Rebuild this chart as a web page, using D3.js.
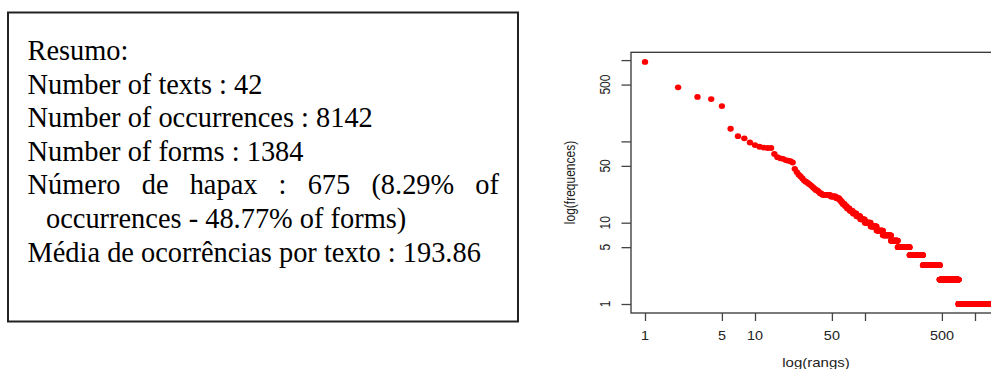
<!DOCTYPE html>
<html>
<head>
<meta charset="utf-8">
<script src="https://cdn.jsdelivr.net/npm/d3@7"></script>
<style>
  html, body { margin: 0; padding: 0; background: #fff; }
  svg { display: block; }
</style>
</head>
<body>
<svg id="chart" width="991" height="369"></svg>
<script>
// ---------- DATA ----------
const summaryLines = [
  "Resumo:",
  "Number of texts : 42",
  "Number of occurrences : 8142",
  "Number of forms : 1384"
];
const hapaxLineWords = ["Número", "de", "hapax", ":", "675", "(8.29%", "of"];
const hapaxLine2 = "occurrences - 48.77% of forms)";
const meanLine = "Média de ocorrências por texto : 193.86";

// frequencies of the 40 most frequent forms (rank 1..40)
const topFrequencies = [950, 463, 352, 332, 272, 143, 116, 109, 97, 90,
  86, 84, 83, 83, 70, 64, 62, 61, 59, 58,
  57, 55, 46, 42, 39, 37, 35, 33, 32, 31,
  30, 29, 28, 27, 26, 25, 25, 24, 23, 23];
// remaining forms: frequency value and number of forms having it
const spectrumFreq  = [22, 21, 20, 19, 18, 17, 16, 15, 14, 13, 12, 11, 10, 9, 8, 7, 6, 5, 4, 3, 2, 1];
const spectrumCount = [ 8,  6,  4,  2,  2,  3,  3,  4,  5,  6,  7,  9, 13, 15, 18, 27, 26, 56, 82, 141, 232, 675];

const xTickValues = [1, 5, 10, 50, 100, 500, 1000];
const xTickLabels = ["1", "5", "10", "50", "", "500", ""];
const yTickValues = [1, 5, 10, 50, 100, 500, 1000];
const yTickLabels = ["1", "5", "10", "50", "", "500", ""];
const xTitle = "log(rangs)";
const yTitle = "log(frequences)";

// ---------- BUILD POINTS ----------
const points = [];
topFrequencies.forEach((f, i) => points.push({rank: i + 1, freq: f}));
let r = topFrequencies.length;
spectrumFreq.forEach((f, i) => {
  for (let k = 0; k < spectrumCount[i]; k++) { r += 1; points.push({rank: r, freq: f}); }
});

const svg = d3.select("#chart");

// ---------- TEXT BOX ----------
svg.append("rect")
  .attr("x", 8).attr("y", 12.5).attr("width", 510).attr("height", 309)
  .attr("fill", "none").attr("stroke", "#222").attr("stroke-width", 2);

const serif = "'Liberation Serif', 'Times New Roman', serif";
const fs = 28.4;
const lineY = [60, 93.6, 127.2, 160.8, 194.4, 228, 261.6];
const tx = 27.5;
const tg = svg.append("g").attr("font-family", serif).attr("font-size", fs).attr("fill", "#000");
summaryLines.forEach((t, i) => {
  tg.append("text").attr("x", tx).attr("y", lineY[i]).text(t);
});
// justified line
const jl = tg.append("text").attr("x", tx).attr("y", lineY[4]).text(hapaxLineWords.join(" "));
const natural = jl.node().getComputedTextLength();
const target = 499 - tx;
const ws = (target - natural) / (hapaxLineWords.length - 1);
jl.attr("word-spacing", ws);
tg.append("text").attr("x", 46).attr("y", lineY[5]).text(hapaxLine2);
tg.append("text").attr("x", tx).attr("y", lineY[6]).text(meanLine);

// ---------- PLOT ----------
const x = d3.scaleLog().domain([1, 1000]).range([645, 975]);
const y = d3.scaleLog().domain([1, 1000]).range([304, 60.1]);
const plotLeft = 631, plotTop = 52.3, plotBottom = 313, plotRight = 998;
const sans = "'Liberation Sans', Arial, sans-serif";
const sx = 1.2; // horizontal stretch of the original picture

svg.append("rect")
  .attr("x", plotLeft).attr("y", plotTop)
  .attr("width", plotRight - plotLeft).attr("height", plotBottom - plotTop)
  .attr("fill", "none").attr("stroke", "#333").attr("stroke-width", 1.3);

// x axis
const xAxis = svg.append("g")
  .attr("transform", `translate(0,${plotBottom})`)
  .call(d3.axisBottom(x).tickValues(xTickValues).tickFormat(() => "").tickSize(8).tickSizeOuter(0));
xAxis.select(".domain").remove();
xAxis.selectAll(".tick line").attr("stroke", "#444").attr("stroke-width", 1.3);
xTickValues.forEach((v, i) => {
  if (!xTickLabels[i]) return;
  svg.append("text")
    .attr("transform", `translate(${x(v)},340) scale(${sx},1)`)
    .attr("text-anchor", "middle")
    .attr("font-family", sans).attr("font-size", 12).attr("fill", "#222")
    .text(xTickLabels[i]);
});
svg.append("text")
  .attr("transform", `translate(816,367) scale(${sx},1)`)
  .attr("text-anchor", "middle")
  .attr("font-family", sans).attr("font-size", 12.5).attr("fill", "#222")
  .text(xTitle);

// y axis
const yAxis = svg.append("g")
  .attr("transform", `translate(${plotLeft},0)`)
  .call(d3.axisLeft(y).tickValues(yTickValues).tickFormat(() => "").tickSize(9.5).tickSizeOuter(0));
yAxis.select(".domain").remove();
yAxis.selectAll(".tick line").attr("stroke", "#444").attr("stroke-width", 1.3);
yTickValues.forEach((v, i) => {
  if (!yTickLabels[i]) return;
  svg.append("text")
    .attr("transform", `translate(610,${y(v)}) rotate(-90) scale(1,${sx})`)
    .attr("text-anchor", "middle")
    .attr("font-family", sans).attr("font-size", 12).attr("fill", "#222")
    .text(yTickLabels[i]);
});
svg.append("text")
  .attr("transform", `translate(574.5,182.5) rotate(-90) scale(1,${sx})`)
  .attr("text-anchor", "middle")
  .attr("font-family", sans).attr("font-size", 12).attr("fill", "#222")
  .text(yTitle);

// points
svg.append("g").selectAll("ellipse").data(points).join("ellipse")
  .attr("cx", d => x(d.rank))
  .attr("cy", d => y(d.freq))
  .attr("rx", 3.2).attr("ry", 2.9)
  .attr("fill", "#ff0000");
</script>
</body>
</html>
